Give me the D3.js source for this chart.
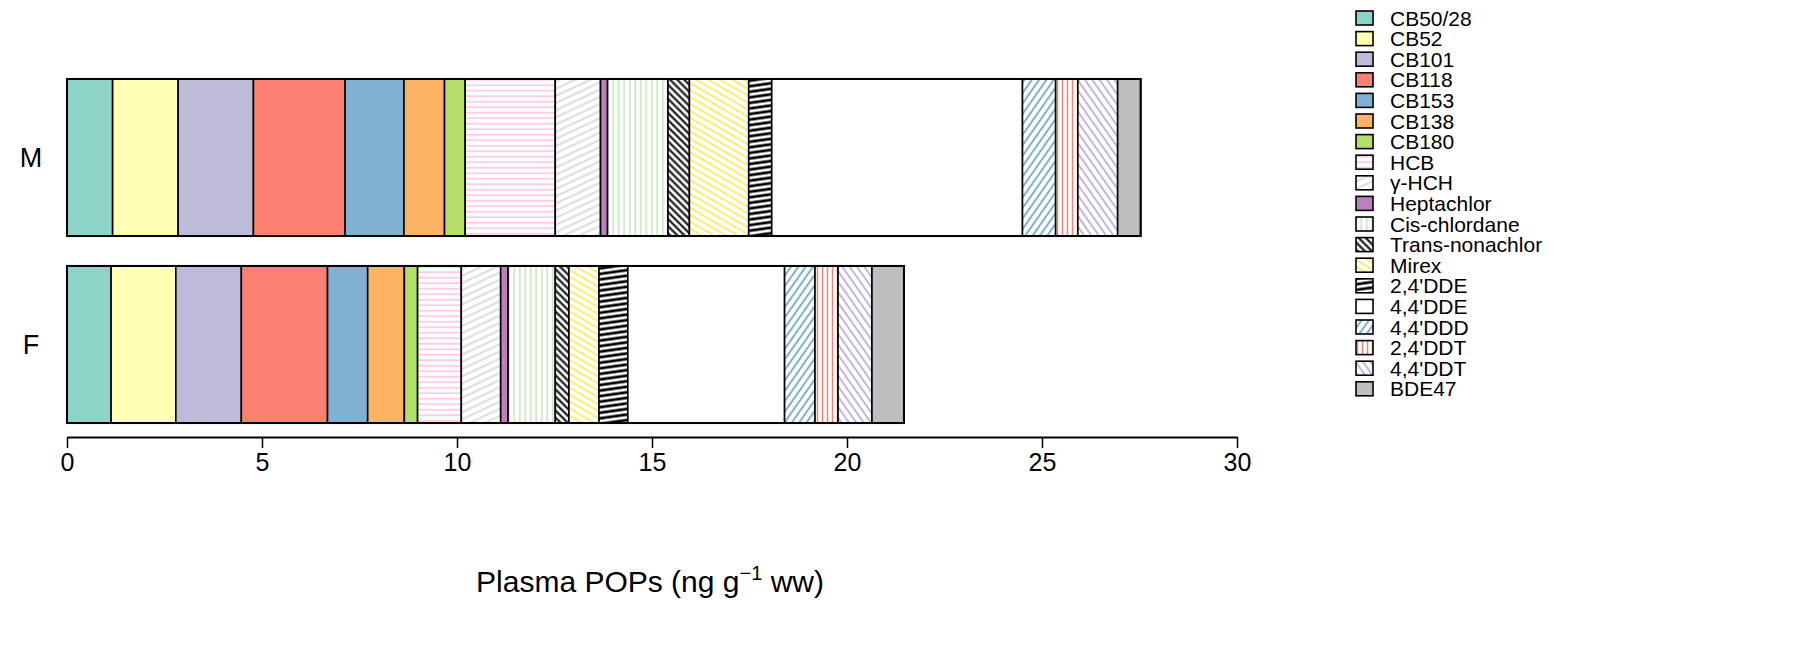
<!DOCTYPE html>
<html><head><meta charset="utf-8">
<script src="https://cdn.jsdelivr.net/npm/d3@7"></script>
<style>body{margin:0;background:#fff;} svg{display:block;font-family:"Liberation Sans",Arial,sans-serif;}</style>
</head><body>
<svg id="chart" width="1798" height="663"></svg>
<script>
const categories = ["M", "F"];
const compounds = ["CB50/28","CB52","CB101","CB118","CB153","CB138","CB180","HCB","γ-HCH","Heptachlor","Cis-chlordane","Trans-nonachlor","Mirex","2,4'DDE","4,4'DDE","4,4'DDD","2,4'DDT","4,4'DDT","BDE47"];
const valuesM = [1.17,1.68,1.93,2.35,1.51,1.04,0.53,2.31,1.16,0.18,1.55,0.55,1.52,0.59,6.43,0.85,0.57,1.02,0.59];
const valuesF = [1.13,1.66,1.68,2.21,1.03,0.94,0.34,1.12,1.01,0.19,1.21,0.35,0.77,0.74,4.02,0.78,0.59,0.87,0.82];
const xTicks = [0,5,10,15,20,25,30];
const colors = ["#8DD3C7","#FFFFB3","#BEBADA","#FB8072","#80B1D3","#FDB462","#B3DE69","#FCCDE5","#D9D9D9","#BC80BD","#CCEBC5","#000000","#FFED6F","#000000","#FFFFFF","#80B1D3","#FB8072","#BEBADA","#BEBEBE"];
// hatch: null = solid; else [angle(deg, rotate of horizontal lines), spacing, width]
const hatch = [null,null,null,null,null,null,null,[0,5.5,2],[-25,6.5,2],null,[90,5.5,2],[45,5,1.8],[30,6,2],[-8,5.5,2.6],null,[-55,6,1.9],[90,5,1.7],[55,6,1.9],null];

const svg = d3.select("#chart");
const defs = svg.append("defs");
compounds.forEach((c,i)=>{
  if(!hatch[i]) return;
  const [ang,sp,w] = hatch[i];
  const p = defs.append("pattern").attr("id","pat"+i).attr("patternUnits","userSpaceOnUse")
    .attr("width",40).attr("height",sp).attr("patternTransform",`rotate(${ang})`);
  p.append("rect").attr("width",40).attr("height",sp).attr("fill","#fff");
  p.append("line").attr("x1",0).attr("x2",40).attr("y1",sp/2).attr("y2",sp/2)
    .attr("stroke",colors[i]).attr("stroke-width",w);
});
const fillOf = i => hatch[i] ? `url(#pat${i})` : colors[i];

const x = d3.scaleLinear().domain([0,30]).range([67,1237]);
const y = d3.scaleBand().domain(categories).range([64,438]).paddingInner(0.16).paddingOuter(0.08);

const data = {M: valuesM, F: valuesF};
categories.forEach(cat=>{
  const vals = data[cat];
  let cum = 0;
  const segs = vals.map((v,i)=>{const s={i,x0:cum,x1:cum+v}; cum+=v; return s;});
  const g = svg.append("g");
  g.selectAll("rect").data(segs).join("rect")
    .attr("x",d=>x(d.x0)).attr("width",d=>x(d.x1)-x(d.x0))
    .attr("y",y(cat)).attr("height",y.bandwidth())
    .attr("fill",d=>fillOf(d.i)).attr("stroke","#000").attr("stroke-width",1.6);
  g.append("rect").attr("x",x(0)).attr("width",x(cum)-x(0)).attr("y",y(cat)).attr("height",y.bandwidth())
    .attr("fill","none").attr("stroke","#000").attr("stroke-width",2);
  svg.append("text").attr("x",31).attr("y",y(cat)+y.bandwidth()/2).attr("text-anchor","middle")
    .attr("dominant-baseline","central").attr("font-size",27).text(cat);
});

const ax = svg.append("g").attr("transform","translate(0,437)")
  .call(d3.axisBottom(x).tickValues(xTicks).tickSize(11).tickPadding(5).tickSizeOuter(0));
ax.select(".domain").attr("stroke","#000").attr("stroke-width",2);
ax.selectAll(".tick line").attr("stroke","#000").attr("stroke-width",1.5);
ax.selectAll(".tick text").attr("font-size",25).attr("fill","#000").attr("font-family","Liberation Sans, Arial, sans-serif");

const t = svg.append("text").attr("x",650).attr("y",592).attr("text-anchor","middle").attr("font-size",30);
t.append("tspan").text("Plasma POPs (ng g");
t.append("tspan").attr("dy",-12).attr("font-size",20).text("−1");
t.append("tspan").attr("dy",12).text(" ww)");

const lg = svg.append("g");
compounds.forEach((c,i)=>{
  const cy = 18 + i*20.6;
  lg.append("rect").attr("x",1356).attr("y",cy-7).attr("width",17).attr("height",14)
    .attr("fill",fillOf(i)).attr("stroke","#000").attr("stroke-width",1.6);
  lg.append("text").attr("x",1390).attr("y",cy).attr("dominant-baseline","central").attr("font-size",21).text(c);
});
</script>
</body></html>
